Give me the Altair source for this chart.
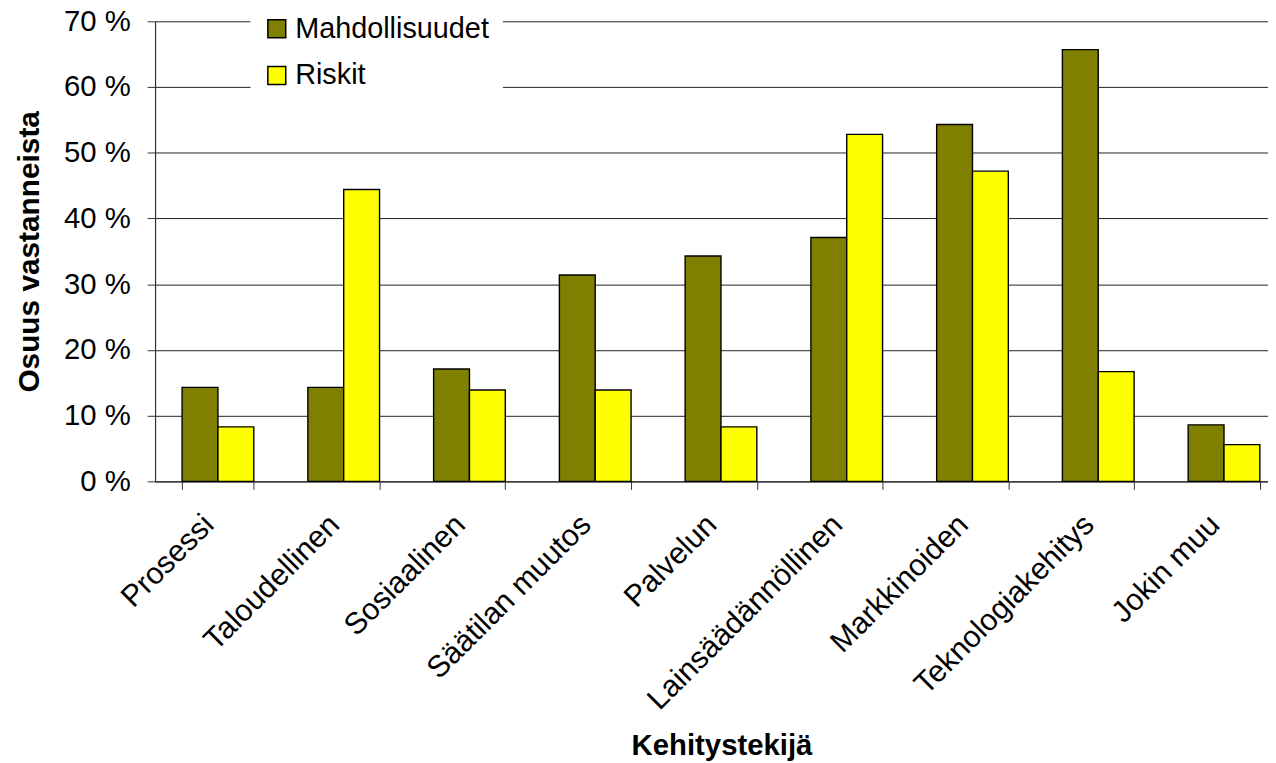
import altair as alt
import pandas as pd

categories = ["Prosessi", "Taloudellinen", "Sosiaalinen", "Säätilan muutos", "Palvelun",
              "Lainsäädännöllinen", "Markkinoiden", "Teknologiakehitys", "Jokin muu"]
series = ["Mahdollisuudet", "Riskit"]
mahdollisuudet = [14.3, 14.3, 17.1, 31.4, 34.3, 37.1, 54.3, 65.7, 8.6]
riskit = [8.3, 44.4, 13.9, 13.9, 8.3, 52.8, 47.2, 16.7, 5.6]
y_ticks = [0, 10, 20, 30, 40, 50, 60, 70]
colors = ["#808000", "#FFFF00"]

rows = []
for c, m, r in zip(categories, mahdollisuudet, riskit):
    rows.append({"cat": c, "series": series[0], "value": m})
    rows.append({"cat": c, "series": series[1], "value": r})
df = pd.DataFrame(rows)

FONT = "Liberation Sans"

chart = alt.Chart(df).mark_bar(stroke="black", strokeWidth=1.4).encode(
    x=alt.X("cat:N", sort=categories,
            scale=alt.Scale(paddingInner=0.43, paddingOuter=0.215),
            axis=alt.Axis(title="Kehitystekijä", labelAngle=-45, labelFontSize=30.5,
                          labelPadding=20, labelOffset=-20, labelLimit=0,
                          tickSize=8, tickBand="extent",
                          titleFontSize=29.5, titleFontWeight="bold",
                          titleX=570, titleY=275, titleBaseline="alphabetic",
                          labelOverlap=False, grid=False)),
    xOffset=alt.XOffset("series:N", sort=series, scale=alt.Scale(paddingInner=0, paddingOuter=0)),
    y=alt.Y("value:Q", scale=alt.Scale(domain=[0, 70], nice=False),
            axis=alt.Axis(title="Osuus vastanneista", values=y_ticks,
                          labelExpr="datum.value + ' %'", labelFontSize=29.5,
                          labelPadding=17, tickSize=8, grid=True, labelLimit=0,
                          titleFontSize=30, titleFontWeight="bold",
                          titleX=-117, titleY=231.5, titleAngle=-90,
                          titleBaseline="alphabetic", titleAlign="center")),
    color=alt.Color("series:N", sort=series,
                    scale=alt.Scale(domain=series, range=colors),
                    legend=alt.Legend(title=None, orient="none", legendX=96, legendY=-19,
                                      padding=12, fillColor="white", strokeColor="white",
                                      symbolType="square", symbolSize=324,
                                      symbolStrokeColor="black", symbolStrokeWidth=1.5,
                                      labelFontSize=29, labelOffset=4, rowPadding=17,
                                      labelLimit=0, labelColor="black")),
).properties(
    width=1139,
    height=463,
    autosize=alt.AutoSizeParams(type="none"),
    padding={"left": 148, "top": 11, "right": -19, "bottom": 281},
).configure(
    font=FONT,
    background="white",
).configure_view(
    stroke=None,
).configure_axis(
    labelFont=FONT, titleFont=FONT, labelColor="black", titleColor="black",
    domainColor="#333", tickColor="#333", gridColor="#222", gridWidth=1,
    domainWidth=1.2, tickWidth=1,
).configure_legend(
    labelFont=FONT,
)

chart.save("out.html", embed_options={"renderer": "svg", "actions": False})
